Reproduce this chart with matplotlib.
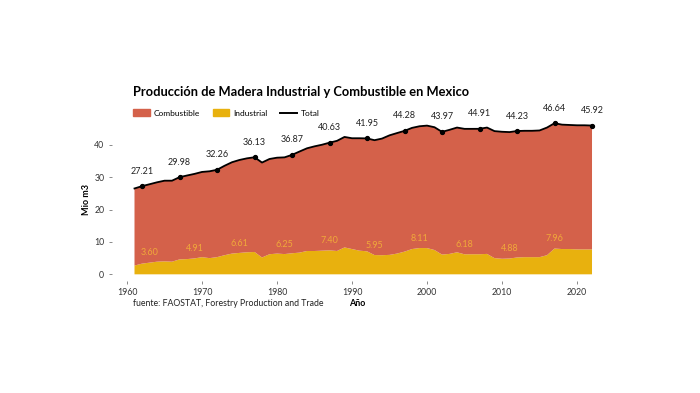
import matplotlib
matplotlib.use("Agg")
import matplotlib.pyplot as plt
import numpy as np
from matplotlib.patches import Patch
from matplotlib.lines import Line2D

plt.rcParams['font.family'] = ['Lato', 'DejaVu Sans']

years = list(range(1961, 2023))
total = [26.5, 27.21, 27.8, 28.4, 28.9, 28.9, 29.98, 30.5, 31.0, 31.6,
         31.8, 32.26, 33.5, 34.6, 35.3, 35.8, 36.13, 34.5, 35.6, 36.0,
         36.1, 36.87, 37.9, 38.9, 39.5, 40.0, 40.63, 41.2, 42.4, 42.0,
         42.0, 41.95, 41.4, 41.9, 42.9, 43.6, 44.28, 45.2, 45.7, 45.9,
         45.4, 43.97, 44.6, 45.3, 44.9, 44.9, 44.91, 45.3, 44.2, 44.0,
         43.9, 44.23, 44.3, 44.3, 44.4, 45.3, 46.64, 46.2, 46.1, 46.0,
         46.0, 45.92]
industrial = [2.7, 3.3, 3.60, 3.9, 4.0, 3.9, 4.6, 4.7, 4.91, 5.3,
              5.0, 5.3, 5.9, 6.4, 6.61, 6.8, 6.9, 5.2, 6.2, 6.4,
              6.25, 6.5, 6.7, 7.2, 7.2, 7.3, 7.40, 7.2, 8.3, 7.8,
              7.3, 7.1, 5.95, 5.9, 6.0, 6.4, 7.0, 7.8, 8.11, 8.1,
              7.5, 6.1, 6.3, 6.8, 6.18, 6.2, 6.2, 6.3, 5.0, 4.8,
              4.88, 5.2, 5.3, 5.3, 5.3, 5.9, 7.96, 7.8, 7.8, 7.7,
              7.7, 7.7]
total_label_years = list(range(1962, 2023, 5))
industrial_label_years = list(range(1963, 2018, 6))
xticks = [1960, 1970, 1980, 1990, 2000, 2010, 2020]
yticks = [0, 10, 20, 30, 40]

years_a = np.array(years)
total_a = np.array(total)
ind_a = np.array(industrial)
comb_a = total_a - ind_a

RED = '#D4614A'
YEL = '#E8B10E'
LBL = '#F0A93A'

fig = plt.figure(figsize=(7, 3.93), dpi=100)
ax = fig.add_axes([0.16, 0.2855, 0.7018, 0.4122])
ax.stackplot(years_a, ind_a, comb_a, colors=[YEL, RED], linewidth=0)
ax.plot(years_a, total_a, color='black', lw=1.3)

idx_t = [years.index(y) for y in total_label_years]
ax.plot(years_a[idx_t], total_a[idx_t], 'o', color='black', ms=2.8)
for i in idx_t:
    ax.annotate(f"{total[i]:.2f}", (years[i], total[i]), xytext=(0, 7.5),
                textcoords='offset points', ha='center', va='bottom',
                fontsize=6.5, color='#222222')
for y in industrial_label_years:
    i = years.index(y)
    ax.text(y, industrial[i] + 3, f"{industrial[i]:.2f}", ha='center',
            va='center', fontsize=6.5, color=LBL)

ax.set_xlim(1958, 2023.5)
ax.set_ylim(-2, 48)
ax.set_xticks(xticks)
ax.set_yticks(yticks)
for s in ax.spines.values():
    s.set_visible(False)
ax.tick_params(axis='both', length=2.5, width=0.6, color='#777777',
               labelsize=6.3, labelcolor='#333333', pad=3)
ax.set_xlabel('Año', fontsize=6.5, fontweight='bold', labelpad=1)
ax.set_ylabel('Mio m3', fontsize=6.5, fontweight='bold', labelpad=2)

fig.text(133/700, 1 - 92/393, 'Producción de Madera Industrial y Combustible en Mexico',
         fontsize=9.3, fontweight='bold', va='center', ha='left')

handles = [Patch(color=RED, label='Combustible'),
           Patch(color=YEL, label='Industrial'),
           Line2D([0], [0], color='black', lw=1.4, label='Total')]
fig.legend(handles=handles, loc='center left', bbox_to_anchor=(133/700, 1 - 113/393),
           ncol=3, frameon=False, fontsize=6, handlelength=2.0, handleheight=0.9,
           columnspacing=1.5, handletextpad=0.5, borderpad=0, borderaxespad=0)

fig.text(133/700, 1 - 303/393, 'fuente: FAOSTAT, Forestry Production and Trade',
         fontsize=6.3, va='center', ha='left', color='#222222')

fig.savefig('out.png', dpi=100, facecolor='white')
